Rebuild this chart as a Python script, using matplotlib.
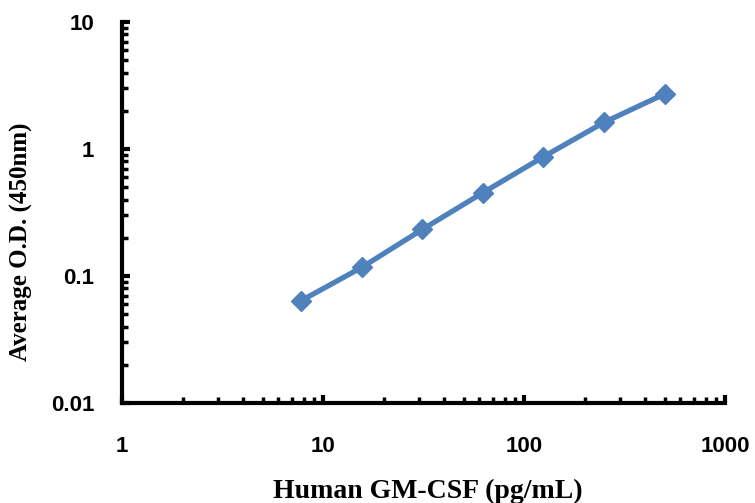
import matplotlib.pyplot as plt
from matplotlib.ticker import LogLocator, FuncFormatter, NullFormatter

# standard curve data
conc = [7.8, 15.6, 31.25, 62.5, 125, 250, 500]
od = [0.064, 0.117, 0.233, 0.453, 0.869, 1.62, 2.71]

fig = plt.figure(figsize=(7.55, 5.03), dpi=100)
ax = fig.add_axes([0.1616, 0.1988, 0.7987, 0.7575])

ax.plot(conc, od, color='#4f81bd', linewidth=3.8, marker='D', markersize=10,
        markerfacecolor='#4f81bd', markeredgecolor='#4f81bd')

ax.set_xscale('log')
ax.set_yscale('log')
ax.set_xlim(1, 1000)
ax.set_ylim(0.01, 10)

for side in ['top', 'right']:
    ax.spines[side].set_visible(False)
for side in ['left', 'bottom']:
    ax.spines[side].set_linewidth(3)

ax.xaxis.set_major_locator(LogLocator(base=10))
ax.yaxis.set_major_locator(LogLocator(base=10))
ax.xaxis.set_minor_locator(LogLocator(base=10, subs=range(2, 10)))
ax.yaxis.set_minor_locator(LogLocator(base=10, subs=range(2, 10)))
ax.xaxis.set_minor_formatter(NullFormatter())
ax.yaxis.set_minor_formatter(NullFormatter())
ax.xaxis.set_major_formatter(FuncFormatter(lambda v, p: '%g' % v))
ax.yaxis.set_major_formatter(FuncFormatter(lambda v, p: '%g' % v))

ax.tick_params(which='major', direction='in', length=6, width=3)
ax.tick_params(which='minor', direction='in', length=4, width=2.5)
ax.tick_params(axis='y', which='major', pad=20)
ax.tick_params(axis='x', which='major', pad=24)
for lab in ax.get_xticklabels() + ax.get_yticklabels():
    lab.set_fontfamily('Liberation Sans')
    lab.set_fontweight('bold')
    lab.set_fontsize(16)

fig.text(0.567, 0.010, 'Human GM-CSF (pg/mL)', ha='center', va='baseline',
         fontfamily='Liberation Serif', fontweight='bold', fontsize=20)
fig.text(0.029, 0.519, 'Average O.D. (450nm)', ha='center', va='center',
         rotation=90, fontfamily='Liberation Serif', fontweight='bold', fontsize=18)

fig.savefig('out.png', dpi=100)
